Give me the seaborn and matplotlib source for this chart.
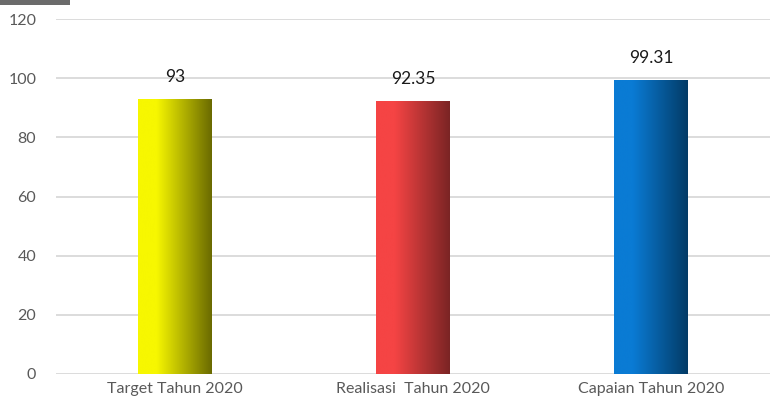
import numpy as np
import pandas as pd
import matplotlib
matplotlib.use("Agg")
import matplotlib.pyplot as plt
import matplotlib.colors as mcolors
from matplotlib.patches import Rectangle
import seaborn as sns

# data
categories = ["Target Tahun 2020", "Realisasi  Tahun 2020", "Capaian Tahun 2020"]
values = [93, 92.35, 99.31]
value_labels = ["93", "92.35", "99.31"]
# left (bright) -> right (dark) colours of each bar
grad_left = ["#f7f700", "#f54444", "#0a7bd4"]
grad_right = ["#6a6a00", "#7a2424", "#033b66"]

df = pd.DataFrame({"cat": categories, "val": values})

sns.set_theme(style="white")
plt.rcParams['font.family'] = ['Lato', 'DejaVu Sans']

fig = plt.figure(figsize=(7.74, 4.16), dpi=100)
ax = fig.add_axes([0.072, 0.101, 0.923, 0.853])

sns.barplot(data=df, x="cat", y="val", ax=ax, width=0.31, color="white", saturation=1)

ax.set_ylim(0, 120)
ax.set_xlim(-0.5, 2.5)
ax.set_yticks(np.arange(0, 121, 20))
ax.yaxis.grid(True, color="#d9d9d9", linewidth=1.3)
ax.set_axisbelow(True)
for s in ax.spines.values():
    s.set_visible(False)
ax.tick_params(axis="both", length=0, labelsize=11.5, colors="#595959")
ax.tick_params(axis="y", pad=14)
ax.tick_params(axis="x", pad=6, labelsize=11.5)
ax.set_xlabel("")
ax.set_ylabel("")

# gradient fill on each bar
for patch, c1, c2 in zip(ax.patches, grad_left, grad_right):
    x0, y0 = patch.get_x(), patch.get_y()
    w, h = patch.get_width(), patch.get_height()
    cmap = mcolors.LinearSegmentedColormap.from_list("g", [(0, c1), (0.25, c1), (1, c2)])
    grad = np.linspace(0, 1, 256).reshape(1, -1)
    im = ax.imshow(grad, cmap=cmap, aspect="auto", extent=[x0, x0 + w, y0, y0 + h],
                   zorder=patch.get_zorder() + 0.1)
    im.set_clip_path(patch)
    patch.set_edgecolor("none")

ax.set_xlim(-0.5, 2.5)
ax.set_ylim(0, 120)

for i, (v, lab) in enumerate(zip(values, value_labels)):
    ax.annotate(lab, (i, v), xytext=(0, 16), textcoords="offset points",
                ha="center", va="center", fontsize=12.5, color="#1a1a1a")

# little dark strip at the top-left corner
fig.patches.append(Rectangle((0, 0.988), 0.09, 0.012, transform=fig.transFigure,
                             facecolor="#6b6b6b", edgecolor="none"))

fig.savefig("out.png", dpi=100)
